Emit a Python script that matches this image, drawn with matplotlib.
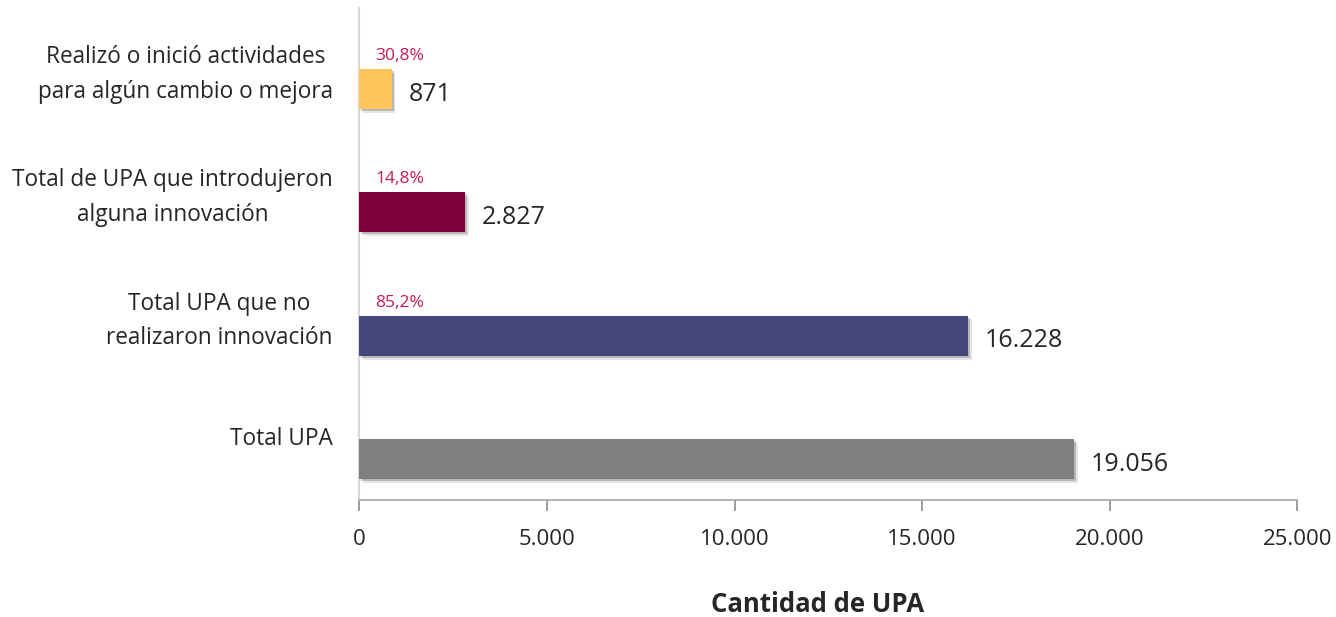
import matplotlib
matplotlib.use('Agg')
import matplotlib.pyplot as plt
import matplotlib.patheffects as pe
from matplotlib.transforms import ScaledTranslation

plt.rcParams['font.family'] = ['Open Sans', 'DejaVu Sans']

# data, bottom to top
categories = ['Total UPA',
              'Total UPA que no\nrealizaron innovación',
              'Total de UPA que introdujeron\nalguna innovación',
              'Realizó o inició actividades\npara algún cambio o mejora']
values = [19056, 16228, 2827, 871]
value_labels = ['19.056', '16.228', '2.827', '871']
pct_labels = ['', '85,2%', '14,8%', '30,8%']
bar_colors = ['#7f7f7f', '#46467c', '#80003c', '#ffc55c']
xticks = [0, 5000, 10000, 15000, 20000, 25000]
xtick_labels = ['0', '5.000', '10.000', '15.000', '20.000', '25.000']

txt = '#262626'
fig = plt.figure(figsize=(13.36, 6.17), dpi=100)
ax = fig.add_axes([359.3/1336, 1-500/617, (1297.3-359.3)/1336, (500-8)/617])

ypos = range(len(values))
shadow = [pe.SimplePatchShadow(offset=(1.2, -1.5), shadow_rgbFace='black', alpha=0.2),
          pe.SimplePatchShadow(offset=(2.4, -2.8), shadow_rgbFace='black', alpha=0.1),
          pe.Normal()]
bars = ax.barh(ypos, values, height=0.325, color=bar_colors, zorder=3)
for b in bars:
    b.set_path_effects(shadow)

for y, v, vl, pl in zip(ypos, values, value_labels, pct_labels):
    ax.annotate(vl, (v, y), xytext=(12, -8.4), textcoords='offset points',
                ha='left', va='baseline', fontsize=18, color=txt)
    if pl:
        ax.annotate(pl, (0, y + 0.1625), xytext=(11.5, 6.5), textcoords='offset points',
                    ha='left', va='baseline', fontsize=12.5, color='#c51b5b')

ax.set_xlim(0, 25000)
ax.set_ylim(-0.333, 3.657)
ax.set_xticks(xticks)
ax.set_xticklabels(xtick_labels, fontsize=16, color=txt)
ax.set_yticks(list(ypos))
ax.set_yticklabels(categories, fontsize=16.3, color=txt, multialignment='center',
                   linespacing=1.6)
ax.tick_params(axis='y', length=0, pad=19)
ax.tick_params(axis='x', length=8, width=1.2, color='#8c8c8c', pad=13, direction='out')
for lbl in ax.get_yticklabels():
    lbl.set_transform(lbl.get_transform() + ScaledTranslation(0, 0.23, fig.dpi_scale_trans))

for s in ['top', 'right']:
    ax.spines[s].set_visible(False)
ax.spines['left'].set_color('#d9d9d9')
ax.spines['left'].set_linewidth(1.5)
ax.spines['bottom'].set_color('#a6a6a6')
ax.spines['bottom'].set_linewidth(1.2)

fig.text(818/1336, 1-605/617, 'Cantidad de UPA', ha='center', va='center',
         fontsize=18.5, fontweight='bold', color=txt)

fig.savefig('out.png', dpi=100)
